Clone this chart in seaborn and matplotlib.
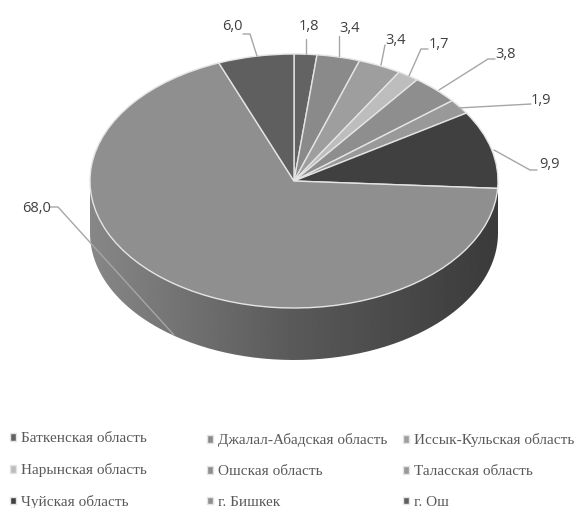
import numpy as np
import seaborn as sns
import matplotlib.pyplot as plt
from matplotlib.path import Path
from matplotlib.patches import PathPatch

regions = ["Баткенская область", "Джалал-Абадская область", "Иссык-Кульская область",
           "Нарынская область", "Ошская область", "Таласская область",
           "Чуйская область", "г. Бишкек", "г. Ош"]
shares = [1.8, 3.4, 3.4, 1.7, 3.8, 1.9, 9.9, 68.0, 6.0]
share_labels = ["1,8", "3,4", "3,4", "1,7", "3,8", "1,9", "9,9", "68,0", "6,0"]
greys = ["#636363", "#8a8a8a", "#9e9e9e", "#bdbdbd", "#8e8e8e", "#999999", "#404040", "#8f8f8f", "#5f5f5f"]

# reference geometry in pixels
W, H = 574, 508
CX, CY, RX, RY, DEPTH = 294, 181, 204, 127, 52

# label text centre and leader line for each slice, in pixels
label_xy = [(309, 26), (350, 29), (396, 41), (439, 44), (506, 54), (541, 100), (549, 165), (37, 208), (232, 26)]
leaders = [
    [(306, 39), (306, 54)],
    [(339, 36), (339, 56)],
    [(385, 45), (381, 65)],
    [(428, 49), (421, 49), (409, 76)],
    [(495, 59), (488, 59), (439, 90)],
    [(531, 104), (458, 108)],
    [(537, 170), (530, 170), (494, 150)],
    [(50, 207), (58, 207), (174, 335)],
    [(243, 34), (250, 34), (257, 56)],
]
legend_x = [10, 207, 403]

sns.set_theme(style="white")
plt.rcParams["font.family"] = ["Liberation Serif", "DejaVu Serif"]

fig = plt.figure(figsize=(W / 100, H / 100), dpi=100)
ax = fig.add_axes([0, 0, 1, 1])

wedges, _ = ax.pie(shares, colors=sns.color_palette(greys), startangle=90, counterclock=False,
                   wedgeprops=dict(edgecolor="#e4e4e4", linewidth=1, zorder=3))

# pie units -> the squashed ellipse of the reference
ax.set_aspect("auto")
xlim = (-CX / RX, (W - CX) / RX)
ylim = ((CY - H) / RY, CY / RY)
depth = DEPTH / RY

# side wall of the 3d pie, grey gradient clipped to the lower half
t = np.linspace(np.pi, 2 * np.pi, 200)
wall_x = np.r_[np.cos(t), np.cos(t)[::-1]]
wall_y = np.r_[np.sin(t) - depth, np.sin(t)[::-1]]
wall = PathPatch(Path(np.c_[wall_x, wall_y]), facecolor="none", edgecolor="none", transform=ax.transData)
ax.add_patch(wall)
ramp = np.interp(np.linspace(0, 1, 256), [0, 0.5, 1], [0.53, 0.35, 0.23])[None, :]
im = ax.imshow(ramp, cmap="gray", vmin=0, vmax=1, extent=(-1, 1, -1 - depth, 0.2), aspect="auto", zorder=1)
im.set_clip_path(wall)

ax.set_xlim(xlim)
ax.set_ylim(ylim)
ax.set_axis_off()


def px(x, y):
    return (x - CX) / RX, (CY - y) / RY


for text, (x, y), line in zip(share_labels, label_xy, leaders):
    ax.text(*px(x, y), text, ha="center", va="center", fontsize=10.5, color="#404040",
            family=["Open Sans", "DejaVu Sans"], zorder=6)
    pts = np.array([px(*p) for p in line])
    ax.plot(pts[:, 0], pts[:, 1], color="#a6a6a6", lw=1, zorder=5)

# one legend per column, the gaps between columns are not equal in the reference
for col, x in enumerate(legend_x):
    idx = [col, col + 3, col + 6]
    fig.legend([wedges[i] for i in idx], [regions[i] for i in idx], loc="lower left",
               bbox_to_anchor=(x / W, -0.002), frameon=False, fontsize=11, labelcolor="#595959",
               handlelength=0.4, handleheight=0.4, handletextpad=0.3,
               labelspacing=1.17, borderaxespad=0, borderpad=0)

fig.savefig("out.png", dpi=100, facecolor="white")
